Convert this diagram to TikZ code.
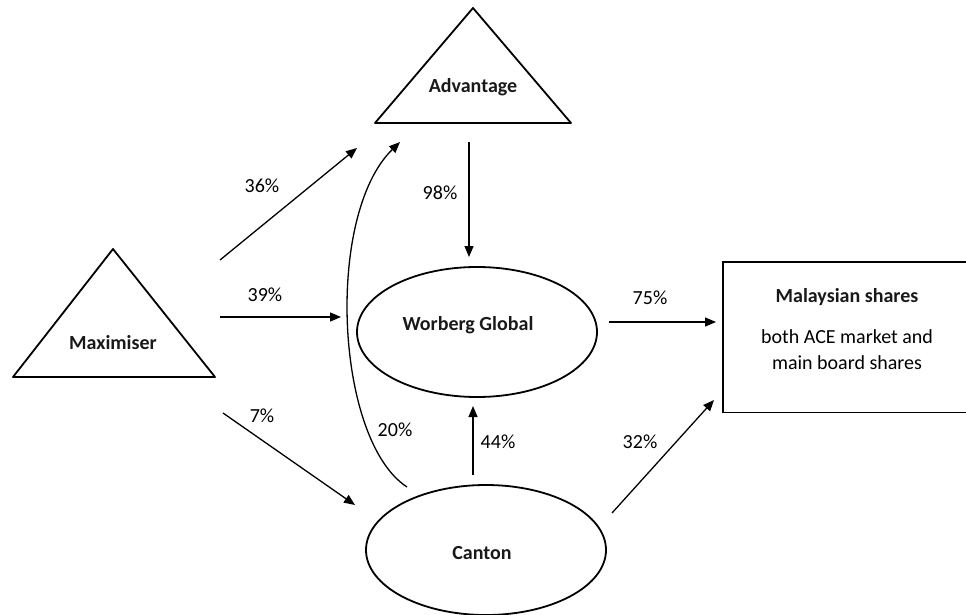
\documentclass[tikz,border=0pt]{standalone}
\usepackage{fontspec}
\setmainfont{Carlito}
\usetikzlibrary{arrows.meta,shapes.geometric}
\begin{document}
\begin{tikzpicture}[x=1pt,y=-1pt,
  shapeline/.style={line width=1.8pt,line join=round},
  conn/.style={line width=1.3pt,-{Triangle[length=11pt,width=9pt]}},
  title/.style={font=\fontsize{20}{24}\selectfont\bfseries,text=black!90},
  pct/.style={font=\fontsize{20}{24}\selectfont,text=black},
  oval/.style={ellipse,draw,shapeline,minimum width=240pt,minimum height=130pt,inner sep=0pt},
]
\useasboundingbox (0,0) rectangle (966,615);
\clip (0,0) rectangle (966,615);

% triangles
\draw[shapeline] (473,8) -- (571,123) -- (375,123) -- cycle;
\draw[shapeline] (113,249) -- (215,377) -- (13,377) -- cycle;

% ellipses
\node[oval] (worE) at (477,332) {};
\node[oval] (canE) at (486,550) {};

% box (its right side lies beyond the picture's edge)
\node[minimum width=260pt,minimum height=150pt,anchor=north west,inner sep=0pt] (box) at (723,262) {};
\draw[line width=1.5pt] (box.north east) -- (box.north west) -- (box.south west) -- (box.south east);

% titles
\node[title] (adv) at (473,87) {Advantage};
\node[title] (max) at (113,343) {Maximiser};
\node[title] (wor) at (468,325) {Worberg Global};
\node[title] (can) at (482,553) {Canton};
\node[title] (ms) at (847,297) {Malaysian shares};
\node[pct,align=center,font=\fontsize{20}{26}\selectfont] (both) at (847,350) {both ACE market and\\main board shares};

% connector end points
\coordinate (a1) at (220,260); \coordinate (a2) at (357,148);
\coordinate (b1) at (220,317); \coordinate (b2) at (341,317);
\coordinate (c1) at (223,413); \coordinate (c2) at (355,505);
\coordinate (d1) at (469,142); \coordinate (d2) at (469,257);
\coordinate (e1) at (473,475); \coordinate (e2) at (473,406);
\coordinate (f1) at (609,322); \coordinate (f2) at (716,322);
\coordinate (g1) at (612,513); \coordinate (g2) at (714,400);
\coordinate (h1) at (407,487); \coordinate (h2) at (400,142);

\draw[conn] (a1) -- (a2);
\draw[conn] (b1) -- (b2);
\draw[conn] (c1) -- (c2);
\draw[conn] (d1) -- (d2);
\draw[conn] (e1) -- (e2);
\draw[conn] (f1) -- (f2);
\draw[conn] (g1) -- (g2);
\draw[conn] (h1) .. controls (335,440) and (325,215) .. (h2);

% labels
\node[pct] (l36) at (262,186) {36\%};
\node[pct] (l39) at (265,295) {39\%};
\node[pct] (l7) at (262,416) {7\%};
\node[pct] (l20) at (395,430) {20\%};
\node[pct] (l98) at (440,193) {98\%};
\node[pct] (l44) at (498,442) {44\%};
\node[pct] (l75) at (650,298) {75\%};
\node[pct] (l32) at (640,442) {32\%};
\end{tikzpicture}
\end{document}
